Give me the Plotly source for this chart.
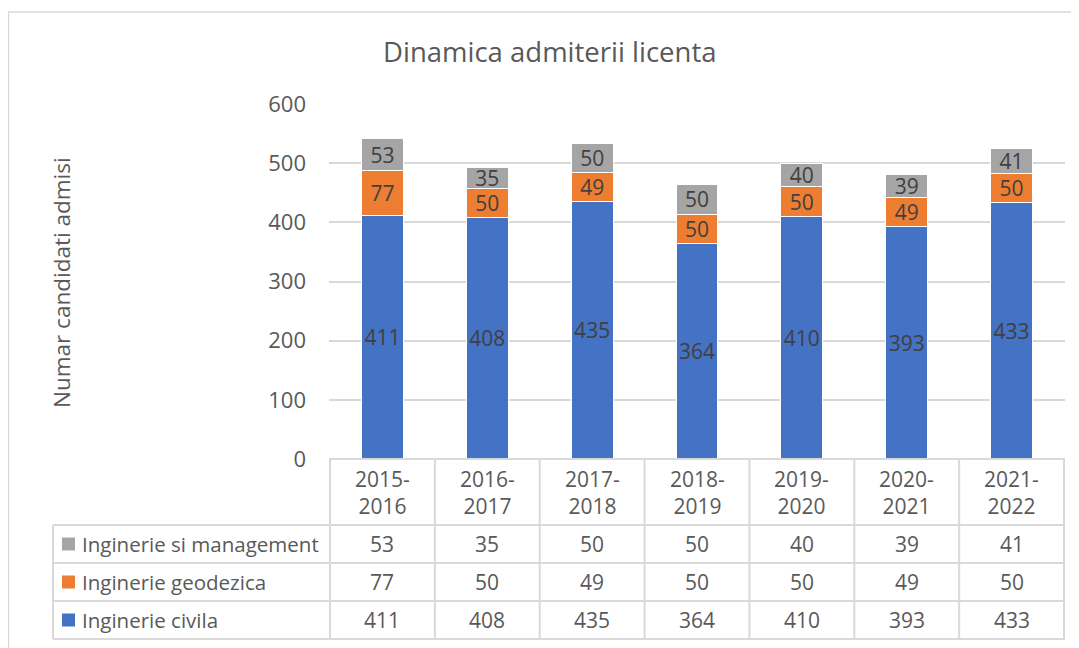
import plotly.graph_objects as go

categories = ["2015-2016", "2016-2017", "2017-2018", "2018-2019", "2019-2020", "2020-2021", "2021-2022"]
header_labels = ["2015-<br>2016", "2016-<br>2017", "2017-<br>2018", "2018-<br>2019", "2019-<br>2020", "2020-<br>2021", "2021-<br>2022"]
civila = [411, 408, 435, 364, 410, 393, 433]
geodezica = [77, 50, 49, 50, 50, 49, 50]
management = [53, 35, 50, 50, 40, 39, 41]
series_names = ["Inginerie civila", "Inginerie geodezica", "Inginerie si management"]
colors = ["#4472C4", "#ED7D31", "#A5A5A5"]
y_ticks = [0, 100, 200, 300, 400, 500, 600]

W, H = 1079, 648
OFF = 8  # page body margin offset
# plot area in page pixels: x 329..1065, y 104..459
PL, PR, PT, PB = 329, 1065, 104, 459
L = PL - OFF
T = PT - OFF
R = W - (PR - OFF)
B = H - (PB - OFF)
PW = PR - PL
PH = PB - PT

def px_x(px):
    return (px - PL) / PW

def px_y(py):
    return (PB - py) / PH

FONT = "Open Sans"
TXT = "#595959"
LBL = "#404040"
GRID = "#D9D9D9"

fig = go.Figure()
for name, vals, col in zip(series_names, [civila, geodezica, management], colors):
    fig.add_trace(go.Bar(
        x=categories, y=vals, name=name,
        marker=dict(color=col, line=dict(color="white", width=1)),
        texttemplate="%{y}", textposition="inside", insidetextanchor="middle",
        textangle=0, constraintext="none",
        textfont=dict(color=LBL, size=21, family=FONT),
        showlegend=False,
    ))

shapes = []
annotations = []

head_top = 459
row_lines = [525, 563, 601, 639]
tbl_left = 53

shapes.append(dict(type="line", xref="paper", yref="paper", x0=0, x1=1,
                   y0=px_y(head_top), y1=px_y(head_top), line=dict(color=GRID, width=2)))
for ry in row_lines:
    shapes.append(dict(type="line", xref="paper", yref="paper", x0=px_x(tbl_left), x1=1,
                       y0=px_y(ry), y1=px_y(ry), line=dict(color=GRID, width=2)))
for k in range(len(categories) + 1):
    shapes.append(dict(type="line", xref="x", yref="paper", x0=k - 0.5, x1=k - 0.5,
                       y0=px_y(head_top), y1=px_y(row_lines[-1]), line=dict(color=GRID, width=2)))
shapes.append(dict(type="line", xref="paper", yref="paper", x0=px_x(tbl_left), x1=px_x(tbl_left),
                   y0=px_y(row_lines[0]), y1=px_y(row_lines[-1]), line=dict(color=GRID, width=2)))

# chart outer border (left + top)
shapes.append(dict(type="line", xref="paper", yref="paper", x0=px_x(8.5), x1=px_x(8.5),
                   y0=px_y(12), y1=px_y(H + 20), line=dict(color=GRID, width=1.5)))
shapes.append(dict(type="line", xref="paper", yref="paper", x0=px_x(8), x1=px_x(W + 20),
                   y0=px_y(12), y1=px_y(12), line=dict(color=GRID, width=1.5)))

for cat, lab in zip(categories, header_labels):
    annotations.append(dict(x=cat, xref="x", y=px_y(492), yref="paper", text=lab,
                            showarrow=False, font=dict(family=FONT, size=21, color=TXT),
                            xanchor="center", yanchor="middle", align="center"))

row_order = [(series_names[2], management, colors[2]),
             (series_names[1], geodezica, colors[1]),
             (series_names[0], civila, colors[0])]
row_centers = [544, 582, 620]
for (name, vals, col), cy in zip(row_order, row_centers):
    shapes.append(dict(type="rect", xref="paper", yref="paper",
                       x0=px_x(62), x1=px_x(75), y0=px_y(cy - 6.5), y1=px_y(cy + 6.5),
                       fillcolor=col, line=dict(width=0)))
    annotations.append(dict(x=px_x(80), xref="paper", y=px_y(cy), yref="paper", text=name,
                            showarrow=False, font=dict(family=FONT, size=20.5, color=TXT),
                            xanchor="left", yanchor="middle"))
    for cat, v in zip(categories, vals):
        annotations.append(dict(x=cat, xref="x", y=px_y(cy), yref="paper", text=str(v),
                                showarrow=False, font=dict(family=FONT, size=21, color=TXT),
                                xanchor="center", yanchor="middle"))

annotations.append(dict(x=px_x(61), xref="paper", y=px_y(283), yref="paper",
                        text="Numar candidati admisi", textangle=-90, showarrow=False,
                        font=dict(family=FONT, size=22.5, color=TXT),
                        xanchor="center", yanchor="middle"))

annotations.append(dict(x=px_x(550), xref="paper", y=px_y(52), yref="paper",
                        text="Dinamica admiterii licenta", showarrow=False,
                        font=dict(family=FONT, size=27.5, color=TXT),
                        xanchor="center", yanchor="middle"))

fig.update_layout(
    width=W, height=H,
    margin=dict(l=L, r=R, t=T, b=B, pad=0),
    paper_bgcolor="white", plot_bgcolor="white",
    barmode="stack", bargap=0.6,
    xaxis=dict(showticklabels=False, showgrid=False, showline=False, zeroline=False, ticks=""),
    yaxis=dict(range=[0, 600], tickvals=y_ticks, showgrid=True, gridcolor=GRID, gridwidth=1.5,
               zeroline=False, showline=False, ticks="", ticklabelstandoff=22,
               tickfont=dict(family=FONT, size=22, color=TXT)),
    uniformtext=dict(mode="show", minsize=21),
    shapes=shapes, annotations=annotations,
    font=dict(family=FONT),
)

fig.write_html("out.html")
